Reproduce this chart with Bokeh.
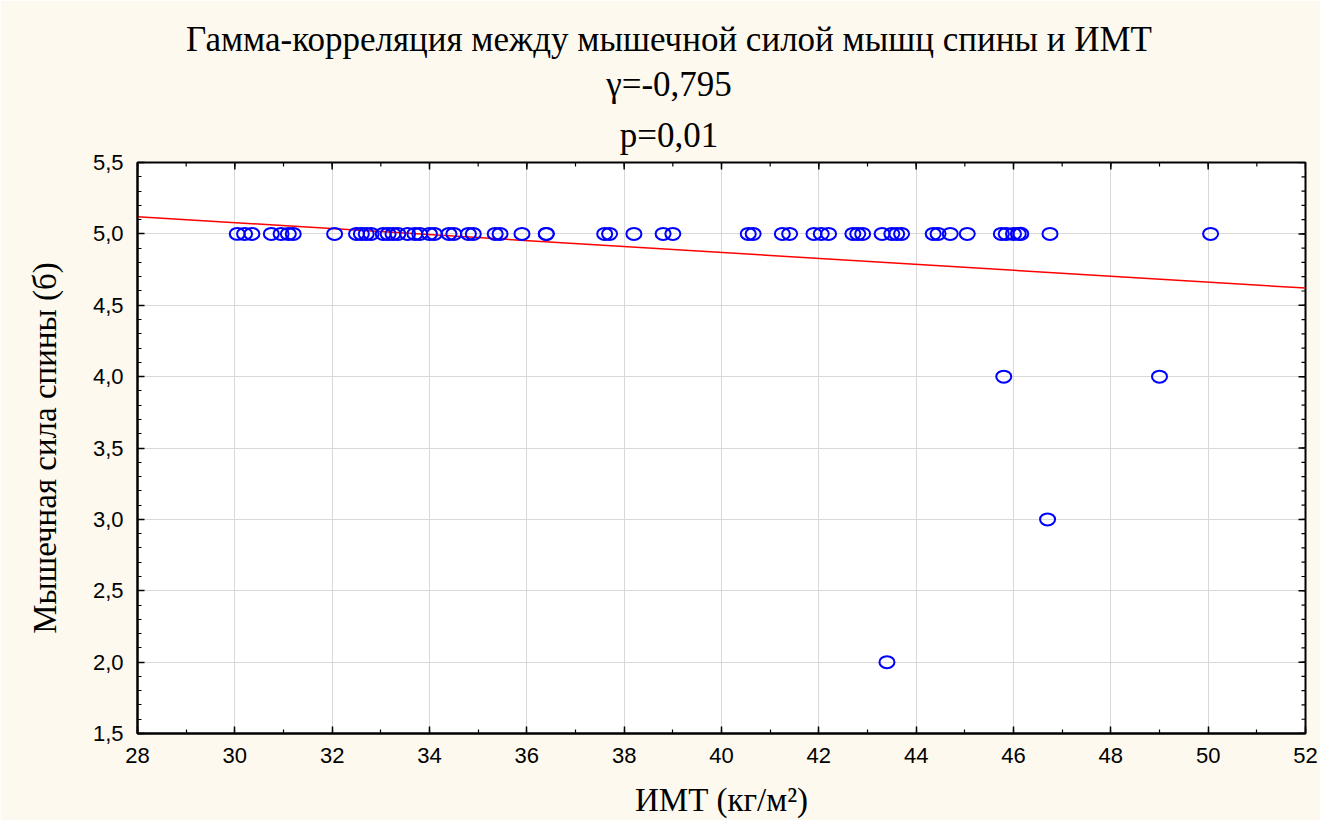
import math
from bokeh.plotting import figure
from bokeh.models import FixedTicker, Title, ColumnDataSource
from bokeh.core.properties import value
from bokeh.core.property.dataspec import DataSpec
from bokeh.embed import file_html
from bokeh.resources import INLINE

# ---- data ----
title_lines = ["Гамма-корреляция между мышечной силой мышц спины и ИМТ", "γ=-0,795", "p=0,01"]
x_label = "ИМТ (кг/м²)"
y_label = "Мышечная сила спины (б)"

bmi_top = [30.05, 30.2, 30.35, 30.75, 30.95, 31.1, 31.2, 32.05, 32.5, 32.6, 32.7, 32.8,
           33.05, 33.15, 33.25, 33.35, 33.55, 33.7, 33.8, 34.0, 34.1, 34.4, 34.5, 34.8,
           34.9, 35.35, 35.45, 35.9, 36.4, 36.4, 37.6, 37.7, 38.2, 38.8, 39.0, 40.55,
           40.65, 41.25, 41.4, 41.9, 42.05, 42.2, 42.7, 42.8, 42.9, 43.3, 43.5, 43.6,
           43.7, 44.35, 44.45, 44.7, 45.05, 45.75, 45.85, 46.0, 46.1, 46.15, 46.75, 50.05]
strength_top = [5.0] * len(bmi_top)
bmi_low = [45.8, 49.0, 46.7, 43.4]
strength_low = [4.0, 4.0, 3.0, 2.0]

fit_x = [28, 52]
fit_y = [5.12, 4.62]

x_ticks = [28, 30, 32, 34, 36, 38, 40, 42, 44, 46, 48, 50, 52]
x_minor = list(range(28, 53))
y_ticks = [1.5, 2.0, 2.5, 3.0, 3.5, 4.0, 4.5, 5.0, 5.5]
y_minor = [round(1.5 + 0.1 * i, 1) for i in range(41)]
y_tick_labels = {v: f"{v:.1f}".replace(".", ",") for v in y_ticks}


def font_for(model_cls, name, font):
    prop = model_cls.lookup(name).property
    return value(font) if isinstance(prop, DataSpec) else font


# ---- figure ----
X0, X1, Y0, Y1 = 28, 52, 1.5, 5.5
cream = "#FDF9EE"
p = figure(width=1320, height=820, x_range=(X0, X1), y_range=(Y0, Y1),
           output_backend="svg", toolbar_location=None, title_location=None,
           min_border_left=137, min_border_right=15, min_border_top=162, min_border_bottom=85)
p.border_fill_color = cream
p.background_fill_color = "white"
p.outline_line_color = "black"
p.outline_line_width = 2

xt = FixedTicker(ticks=x_ticks, minor_ticks=x_minor)
yt = FixedTicker(ticks=y_ticks, minor_ticks=y_minor)

xax = p.below[0]
yax = p.left[0]
for ax, ticker in ((xax, xt), (yax, yt)):
    ax.ticker = ticker
    ax.major_tick_in = 7
    ax.major_tick_out = 0
    ax.minor_tick_in = 4
    ax.minor_tick_out = 0
    ax.axis_line_color = "black"
    ax.axis_line_width = 2
    ax.major_tick_line_width = 1.5
    ax.minor_tick_line_width = 1.2
    ax.major_label_text_font = "Liberation Sans"
    ax.major_label_text_font_size = "22px"
    ax.major_label_text_color = "black"
    ax.major_label_standoff = 14
    ax.axis_label_text_font = "Liberation Serif"
    ax.axis_label_text_font_size = "33px"
    ax.axis_label_text_font_style = "normal"
    ax.axis_label_text_color = "black"
    ax.axis_label_standoff = 16
yax.major_label_overrides = y_tick_labels
yax.axis_label_standoff = 27
xax.axis_label = x_label
yax.axis_label = y_label

p.xgrid.ticker = xt
p.ygrid.ticker = yt
p.xgrid.grid_line_color = "#d9d9d9"
p.ygrid.grid_line_color = "#d9d9d9"

# inward ticks on top and right edges of the frame
p.ray(x=x_ticks, y=Y1, length=7, length_units="screen", angle=-math.pi / 2,
      line_color="black", line_width=1.5)
p.ray(x=x_minor, y=Y1, length=4, length_units="screen", angle=-math.pi / 2,
      line_color="black", line_width=1.2)
p.ray(x=X1, y=y_ticks, length=7, length_units="screen", angle=math.pi,
      line_color="black", line_width=1.5)
p.ray(x=X1, y=y_minor, length=4, length_units="screen", angle=math.pi,
      line_color="black", line_width=1.2)

# regression line
p.line(fit_x, fit_y, line_color="#ff0000", line_width=1.5)

# points
src = ColumnDataSource(dict(x=bmi_top + bmi_low, y=strength_top + strength_low))
p.ellipse(x="x", y="y", width=15, height=12, width_units="screen", height_units="screen",
          fill_color=None, line_color="#0000ff", line_width=2, source=src)

# title lines stacked above the frame (first added sits closest to the frame).
# Titles are centred over the frame; trailing no-break spaces move the visible
# text a little to the left, to sit centred over the whole picture like the original.
pad = "\u00a0" * 12
title_font = font_for(Title, "text_font", "Liberation Serif")
for i, txt in enumerate(reversed(title_lines)):
    p.add_layout(Title(text=txt + pad, align="center", standoff=16 if i == 0 else 4,
                       text_font=title_font, text_font_size="35px",
                       text_font_style="normal", text_color="black"), "above")

open("out.html", "w").write(file_html(p, INLINE))
